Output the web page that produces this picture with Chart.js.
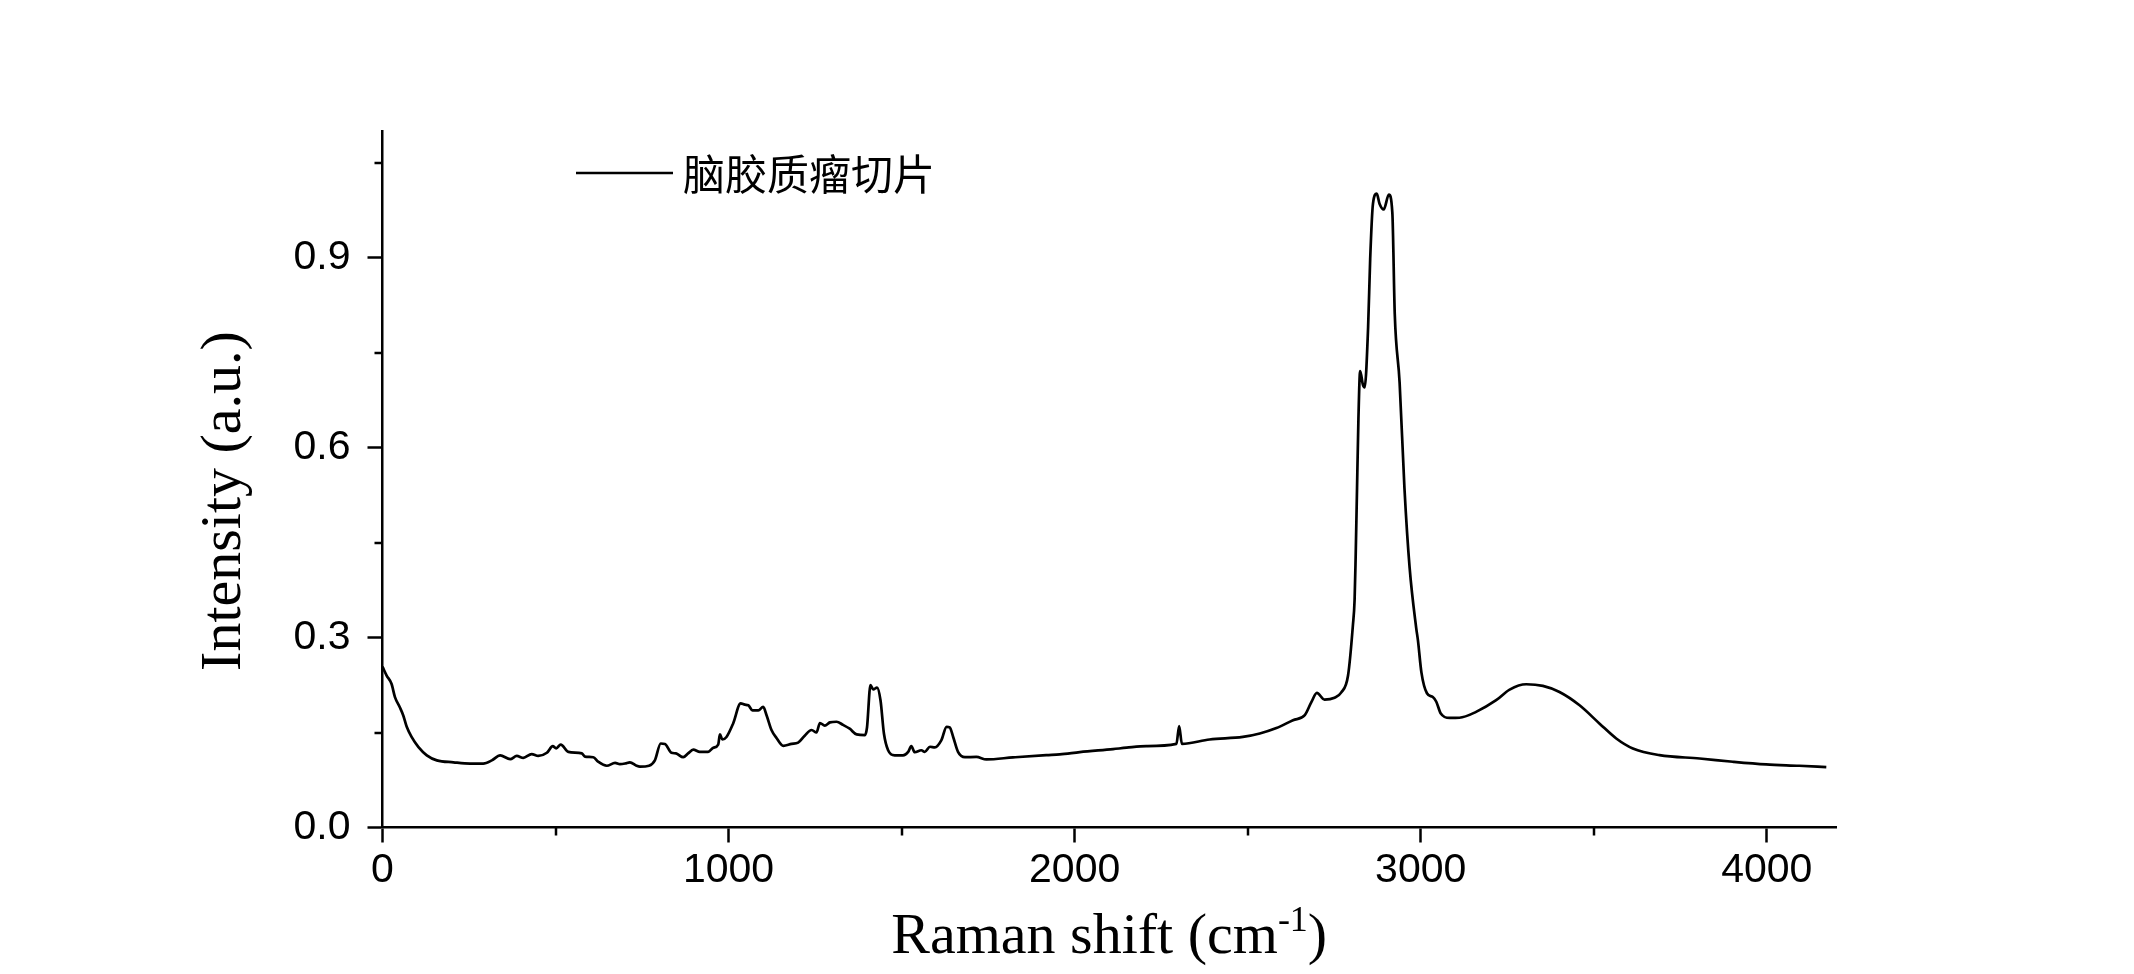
<!DOCTYPE html>
<html>
<head>
<meta charset="utf-8">
<script src="https://cdn.jsdelivr.net/npm/chart.js@4"></script>
<style>
html,body{margin:0;padding:0;background:#ffffff;}
#wrap{width:2134px;height:974px;position:relative;}
</style>
</head>
<body>
<div id="wrap"><canvas id="c" width="2134" height="974"></canvas></div>
<script>
// ---- data ----
const ramanShift = [0,12,26,36,50,60,70,84,104,128,157,205,253,291,316,340,369,388,407,431,450,475,492,502,515,537,576,585,609,623,648,672,686,701,715,734,744,770,787,804,816,835,848,869,883,898,917,941,956,970,975,982,994,1013,1035,1047,1057,1069,1086,1100,1110,1124,1139,1158,1182,1201,1220,1240,1254,1264,1278,1293,1312,1331,1350,1370,1394,1400,1410,1418,1429,1439,1449,1461,1480,1504,1519,1528,1538,1557,1567,1582,1596,1615,1630,1639,1649,1663,1683,1716,1745,1822,1918,1957,2015,2111,2150,2207,2294,2302,2310,2390,2486,2535,2583,2631,2665,2684,2700,2722,2751,2770,2790,2804,2809,2812,2816,2820,2825,2833,2838,2848,2854,2862,2873,2881,2893,2908,2918,2925,2939,2953,2968,2987,2992,3002,3018,3035,3045,3058,3084,3112,3160,3218,3257,3305,3353,3401,3459,3517,3565,3613,3690,3806,3902,3998,4094,4172];
const intensity = [0.254,0.240,0.227,0.206,0.190,0.177,0.159,0.143,0.127,0.114,0.106,0.103,0.101,0.101,0.106,0.114,0.108,0.113,0.110,0.116,0.113,0.118,0.1285,0.125,0.131,0.1195,0.117,0.112,0.111,0.104,0.0975,0.102,0.100,0.101,0.103,0.0975,0.096,0.0975,0.106,0.1327,0.132,0.118,0.117,0.111,0.117,0.123,0.1195,0.1195,0.126,0.131,0.147,0.139,0.143,0.164,0.196,0.194,0.193,0.185,0.185,0.1905,0.177,0.154,0.141,0.129,0.132,0.134,0.145,0.154,0.150,0.165,0.161,0.166,0.167,0.162,0.156,0.147,0.146,0.158,0.225,0.218,0.221,0.201,0.148,0.122,0.114,0.114,0.1195,0.1285,0.119,0.122,0.1195,0.1275,0.1265,0.138,0.159,0.158,0.143,0.1195,0.111,0.1115,0.1075,0.1107,0.1143,0.1154,0.119,0.1238,0.126,0.1285,0.132,0.160,0.132,0.139,0.143,0.1485,0.157,0.1695,0.1774,0.198,0.2125,0.202,0.205,0.213,0.240,0.319,0.360,0.427,0.536,0.645,0.721,0.699,0.695,0.790,0.898,0.985,1.001,0.985,0.976,0.9995,0.971,0.811,0.703,0.536,0.410,0.315,0.2956,0.245,0.212,0.206,0.1986,0.180,0.173,0.1733,0.1826,0.201,0.2178,0.2262,0.2236,0.214,0.193,0.164,0.1406,0.1248,0.1143,0.109,0.1038,0.0996,0.0975,0.0954];
const xTickValues = [0,1000,2000,3000,4000];
const xMinorTickValues = [500,1500,2500,3500];
const yTickValues = [0.0,0.3,0.6,0.9];
const yMinorTickValues = [0.15,0.45,0.75,1.05];
const seriesLabel = '脑胶质瘤切片';
const xTitleMain = 'Raman shift (cm';
const xTitleSup = '-1';
const xTitleEnd = ')';
const yTitle = 'Intensity (a.u.)';

const points = ramanShift.map((x, i) => ({x: x, y: intensity[i]}));

const decorPlugin = {
  id: 'decor',
  afterDraw(chart) {
    const ctx = chart.ctx;
    const xs = chart.scales.x, ys = chart.scales.y;
    const area = chart.chartArea;
    ctx.save();
    // minor ticks
    ctx.strokeStyle = '#000';
    ctx.lineWidth = 2.5;
    ctx.beginPath();
    xMinorTickValues.forEach(v => {
      const px = Math.round(xs.getPixelForValue(v)) ;
      ctx.moveTo(px, area.bottom);
      ctx.lineTo(px, area.bottom + 8);
    });
    yMinorTickValues.forEach(v => {
      const py = Math.round(ys.getPixelForValue(v));
      ctx.moveTo(area.left, py);
      ctx.lineTo(area.left - 8, py);
    });
    ctx.stroke();

    // y title
    ctx.fillStyle = '#000';
    ctx.save();
    ctx.translate(240, 501);
    ctx.rotate(-Math.PI / 2);
    ctx.font = '58px "Liberation Serif", "Times New Roman", serif';
    ctx.textAlign = 'center';
    ctx.textBaseline = 'alphabetic';
    ctx.fillText(yTitle, 0, 0);
    ctx.restore();

    // x title with superscript
    const mainFont = '58px "Liberation Serif", "Times New Roman", serif';
    const supFont = '36px "Liberation Serif", "Times New Roman", serif';
    ctx.font = mainFont;
    const w1 = ctx.measureText(xTitleMain).width;
    const w3 = ctx.measureText(xTitleEnd).width;
    ctx.font = supFont;
    const w2 = ctx.measureText(xTitleSup).width;
    const total = w1 + w2 + w3;
    const cx = (area.left + area.right) / 2;
    let x0 = cx - total / 2;
    const base = 953;
    ctx.textAlign = 'left';
    ctx.textBaseline = 'alphabetic';
    ctx.font = mainFont;
    ctx.fillText(xTitleMain, x0, base);
    ctx.font = supFont;
    ctx.fillText(xTitleSup, x0 + w1, base - 22);
    ctx.font = mainFont;
    ctx.fillText(xTitleEnd, x0 + w1 + w2, base);

    // legend
    ctx.beginPath();
    ctx.lineWidth = 2.5;
    ctx.moveTo(576, 173);
    ctx.lineTo(673, 173);
    ctx.stroke();
    ctx.font = '42px "Noto Sans CJK SC", sans-serif';
    ctx.textBaseline = 'middle';
    ctx.textAlign = 'left';
    ctx.fillText(seriesLabel, 683, 174);
    ctx.restore();
  }
};

new Chart(document.getElementById('c'), {
  type: 'line',
  data: {
    datasets: [{
      label: seriesLabel,
      data: points,
      borderColor: '#000000',
      borderWidth: 2.7,
      pointRadius: 0,
      fill: false,
      tension: 0,
      cubicInterpolationMode: 'monotone'
    }]
  },
  options: {
    responsive: false,
    animation: false,
    devicePixelRatio: 1,
    parsing: false,
    layout: { padding: { top: 131, right: 298, left: 0, bottom: 0 } },
    plugins: { legend: { display: false }, tooltip: { enabled: false }, title: { display: false } },
    scales: {
      x: {
        type: 'linear',
        min: 0, max: 4200,
        afterBuildTicks: s => { s.ticks = xTickValues.map(v => ({value: v})); },
        afterFit: s => { s.height = 146.5; },
        ticks: {
          color: '#000',
          font: { family: '"Liberation Sans", Arial, sans-serif', size: 41 },
          padding: 4,
          maxRotation: 0,
          autoSkip: false,
          callback: v => String(v)
        },
        grid: { display: true, drawOnChartArea: false, drawTicks: true, tickLength: 15, tickWidth: 2.5, tickColor: '#000' },
        border: { display: true, color: '#000', width: 2.5 }
      },
      y: {
        type: 'linear',
        min: 0, max: 1.1,
        afterBuildTicks: s => { s.ticks = yTickValues.map(v => ({value: v})); },
        afterFit: s => { s.width = 382.5; },
        ticks: {
          color: '#000',
          font: { family: '"Liberation Sans", Arial, sans-serif', size: 41 },
          padding: 17,
          autoSkip: false,
          callback: v => Number(v).toFixed(1)
        },
        grid: { display: true, drawOnChartArea: false, drawTicks: true, tickLength: 15, tickWidth: 2.5, tickColor: '#000' },
        border: { display: true, color: '#000', width: 2.5 }
      }
    }
  },
  plugins: [decorPlugin]
});
</script>
</body>
</html>
